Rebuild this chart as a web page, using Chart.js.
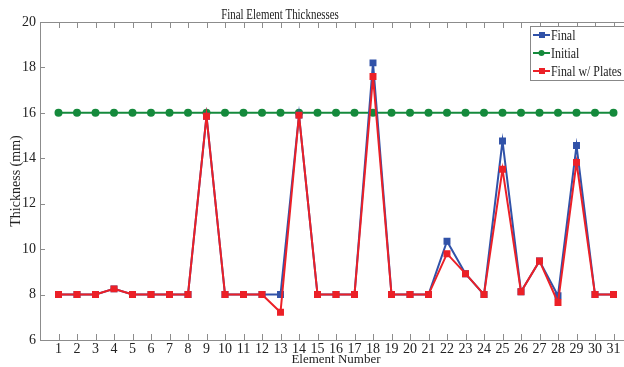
<!DOCTYPE html>
<html>
<head>
<meta charset="utf-8">
<script src="https://cdn.jsdelivr.net/npm/chart.js@4/dist/chart.umd.min.js"></script>
<style>
  html, body { margin: 0; padding: 0; background: #fff; overflow: hidden; }
  canvas { display: block; }
</style>
</head>
<body>
<canvas id="thickChart" width="640" height="367"></canvas>
<script>
// Element numbers and thicknesses (mm)
const elements = [1,2,3,4,5,6,7,8,9,10,11,12,13,14,15,16,17,18,19,20,21,22,23,24,25,26,27,28,29,30,31];
const finalVals = [8,8,8,8.25,8,8,8,8,15.85,8,8,8,8,15.9,8,8,8,18.2,8,8,8,10.35,8.92,8,14.76,8.12,9.48,7.95,14.56,8,8];
const initialVals = [16,16,16,16,16,16,16,16,16,16,16,16,16,16,16,16,16,16,16,16,16,16,16,16,16,16,16,16,16,16,16];
const platesVals = [8,8,8,8.25,8,8,8,8,15.85,8,8,8,7.22,15.9,8,8,8,17.6,8,8,8,9.8,8.92,8,13.52,8.12,9.48,7.65,13.82,8,8];
const yTicks = [6,8,10,12,14,16,18,20];

const serif = "'Liberation Serif', 'DejaVu Serif', serif";
const axisGray = '#8c8c8c';

function toPoints(vals) {
    return elements.map(function(e, i) { return { x: e, y: vals[i] }; });
}

// narrow text like the squeezed original
function narrowText(ctx, text, x, y, squeeze) {
    ctx.save();
    ctx.translate(x, y);
    ctx.scale(squeeze, 1);
    ctx.fillText(text, 0, 0);
    ctx.restore();
}

// Inward tick marks, box frame, title and legend drawn like the original figure
const figurePlugin = {
    id: 'figure',
    afterDraw: function(chart) {
        const ctx = chart.ctx;
        const area = chart.chartArea;
        const xs = chart.scales.x;
        const ys = chart.scales.y;

        ctx.save();
        ctx.strokeStyle = axisGray;
        ctx.lineWidth = 1;
        ctx.strokeRect(area.left + 0.5, area.top + 0.5, area.right - area.left, area.bottom - area.top);

        ctx.beginPath();
        elements.forEach(function(e) {
            const px = Math.round(xs.getPixelForValue(e)) + 0.5;
            ctx.moveTo(px, area.bottom);
            ctx.lineTo(px, area.bottom - 6);
            ctx.moveTo(px, area.top);
            ctx.lineTo(px, area.top + 6);
        });
        yTicks.forEach(function(v) {
            const py = Math.round(ys.getPixelForValue(v)) + 0.5;
            ctx.moveTo(area.left, py);
            ctx.lineTo(area.left + 5, py);
        });
        ctx.stroke();

        // title
        ctx.fillStyle = '#222';
        ctx.font = '14px ' + serif;
        ctx.textAlign = 'center';
        ctx.textBaseline = 'alphabetic';
        narrowText(ctx, 'Final Element Thicknesses', 280, 19, 0.78);

        // legend box
        const lx = 530, ly = 26;
        ctx.fillStyle = '#fff';
        ctx.fillRect(lx, ly, 110, 54);
        ctx.strokeStyle = '#888';
        ctx.strokeRect(lx + 0.5, ly + 0.5, 110, 54);
        const rows = [35, 53, 71];
        ctx.textAlign = 'left';
        ctx.textBaseline = 'middle';
        ctx.font = '14px ' + serif;
        [1, 2, 0].forEach(function(di, r) {
            const ds = chart.data.datasets[di];
            const y = rows[r];
            ctx.strokeStyle = ds.borderColor;
            ctx.lineWidth = 2;
            ctx.beginPath();
            ctx.moveTo(lx + 3, y);
            ctx.lineTo(lx + 20, y);
            ctx.stroke();
            ctx.fillStyle = ds.borderColor;
            if (ds.pointStyle === 'circle') {
                ctx.beginPath();
                ctx.arc(lx + 11.5, y, 3, 0, Math.PI * 2);
                ctx.fill();
            } else {
                ctx.fillRect(lx + 9, y - 3, 6, 6);
            }
            ctx.fillStyle = '#222';
            narrowText(ctx, ds.label, lx + 21, y + 1, 0.85);
        });
        ctx.restore();
    }
};

const ctx = document.getElementById('thickChart').getContext('2d');
const thickChart = new Chart(ctx, {
    type: 'line',
    data: {
        datasets: [
            {
                label: 'Final w/ Plates',
                data: toPoints(platesVals),
                borderColor: '#ec2027',
                backgroundColor: '#ec2027',
                borderWidth: 2,
                pointStyle: 'rect',
                pointRadius: 3.5,
                tension: 0,
                order: 0
            },
            {
                label: 'Final',
                data: toPoints(finalVals),
                borderColor: '#3152a8',
                backgroundColor: '#3152a8',
                borderWidth: 2,
                pointStyle: 'rect',
                pointRadius: 3.5,
                tension: 0,
                order: 1
            },
            {
                label: 'Initial',
                data: toPoints(initialVals),
                borderColor: '#158a3c',
                backgroundColor: '#158a3c',
                borderWidth: 2,
                pointStyle: 'circle',
                pointRadius: 3,
                tension: 0,
                order: 2
            }
        ]
    },
    options: {
        responsive: false,
        animation: false,
        layout: { padding: { top: 22, right: 8, bottom: 0, left: 0 } },
        plugins: {
            legend: { display: false },
            title: { display: false },
            tooltip: { enabled: false }
        },
        scales: {
            x: {
                type: 'linear',
                min: 0,
                max: 32,
                afterFit: function(scale) { scale.height = 27; },
                afterBuildTicks: function(scale) {
                    scale.ticks = elements.map(function(e) { return { value: e }; });
                },
                ticks: {
                    autoSkip: false,
                    maxRotation: 0,
                    padding: 1,
                    color: '#222',
                    font: { family: serif, size: 14 }
                },
                grid: { display: false, drawTicks: false },
                border: { display: true, color: axisGray },
                title: {
                    display: true,
                    text: 'Element Number',
                    color: '#222',
                    padding: { top: -3, bottom: 0 },
                    font: { family: serif, size: 13 }
                }
            },
            y: {
                min: 6,
                max: 20,
                afterFit: function(scale) { scale.width = 40; },
                afterBuildTicks: function(scale) {
                    scale.ticks = yTicks.map(function(v) { return { value: v }; });
                },
                ticks: {
                    padding: 4,
                    color: '#222',
                    font: { family: serif, size: 14 }
                },
                grid: { display: false, drawTicks: false },
                border: { display: true, color: axisGray },
                title: {
                    display: true,
                    text: 'Thickness (mm)',
                    color: '#222',
                    padding: { top: 8, bottom: 0 },
                    font: { family: serif, size: 14 }
                }
            }
        }
    },
    plugins: [figurePlugin]
});
</script>
</body>
</html>
